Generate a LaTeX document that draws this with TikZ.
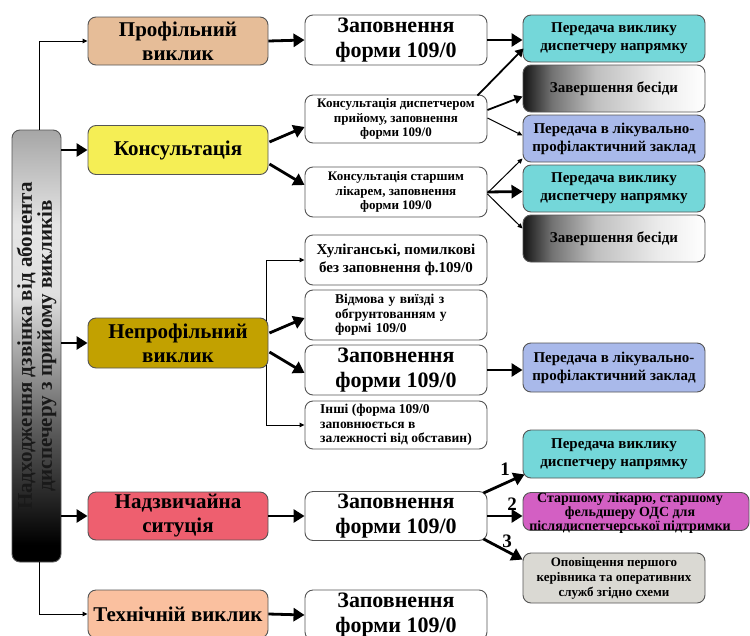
\documentclass[tikz,border=0pt]{standalone}
\usepackage{fontspec}
\setmainfont{Liberation Serif}
\usetikzlibrary{arrows.meta,calc}

\definecolor{cprof}{HTML}{E6BD98}
\definecolor{ckons}{HTML}{F5EE55}
\definecolor{cnepr}{HTML}{C2A100}
\definecolor{cnads}{HTML}{EE5F6F}
\definecolor{ctech}{HTML}{FAC09F}
\definecolor{ccyan}{HTML}{74D7D9}
\definecolor{clav}{HTML}{A9B9EA}
\definecolor{cmag}{HTML}{D35FC3}
\definecolor{cgray}{HTML}{DAD9D3}
\definecolor{cline}{HTML}{555555}

\pgfdeclareverticalshading{barshade}{100bp}{color(0bp)=(black); color(27bp)=(black); color(40bp)=(black!65); color(56bp)=(black!12); color(64bp)=(black!10); color(75bp)=(black!35); color(100bp)=(black!35)}
\pgfdeclarehorizontalshading{endshade}{100bp}{color(0bp)=(black); color(25bp)=(black!92); color(33bp)=(black!55); color(45bp)=(black!25); color(62bp)=(black!8); color(75bp)=(white); color(100bp)=(white)}

\tikzset{
  box/.style={draw=cline, line width=0.9pt, rounded corners=8pt, minimum height=48pt, inner sep=2pt, align=center},
  c1/.style={box, minimum width=180pt, font=\fontsize{21}{24}\selectfont\bfseries},
  c2/.style={box, minimum width=182pt, fill=white},
  big/.style={font=\fontsize{22}{25}\selectfont\bfseries},
  small/.style={font=\fontsize{13}{14.5}\selectfont\bfseries},
  mid/.style={font=\fontsize{13.5}{14.5}\selectfont\bfseries},
  c3/.style={box, minimum width=182pt, minimum height=47pt, font=\fontsize{15}{18}\selectfont\bfseries},
  numlab/.style={font=\fontsize{19}{19}\selectfont\bfseries, inner sep=0pt},
  thickarr/.style={line width=2.8pt, -{Triangle[length=11pt,width=13pt]}},
  medarr/.style={line width=1.8pt, -{Triangle[length=8pt,width=9pt]}},
  thinarr/.style={line width=1pt, -{Triangle[length=5pt,width=4.5pt]}},
}

\begin{document}
\begin{tikzpicture}[x=1pt,y=-1pt]
\useasboundingbox (0,0) rectangle (750,635);

% left bar
\node[draw=cline, line width=0.9pt, rounded corners=8pt, shading=barshade, minimum width=49pt, minimum height=432pt, inner sep=0pt] (bar) at (36.5,346) {};
\node[rotate=90, align=center, font=\fontsize{21}{20}\selectfont\bfseries, text=black!90] (bartext) at (bar.center) {Надходження дзвінка від абонента\\диспечеру з прийому викликів};

% column 1
\node[c1, fill=cprof] (prof) at (178,41) {Профільний\\виклик};
\node[c1, fill=ckons, minimum height=49pt] (kons) at (178,150) {Консультація};
\node[c1, fill=cnepr, minimum height=50pt] (neprof) at (178,343) {Непрофільний\\виклик};
\node[c1, fill=cnads] (nads) at (178,516) {Надзвичайна\\ситуція};
\node[c1, fill=ctech] (tech) at (178,614) {Технічній виклик};

% column 2
\node[c2, big, minimum height=50pt] (z1) at (396,40) {Заповнення\\форми 109/0};
\node[c2, small] (kd) at (396,119) {Консультація диспетчером\\прийому, заповнення\\форми 109/0};
\node[c2, small, minimum height=50pt] (ks) at (396,192) {Консультація старшим\\лікарем, заповнення\\форми 109/0};
\node[c2, font=\fontsize{15}{18}\selectfont\bfseries, minimum height=50pt] (hul) at (396,260) {Хуліганські, помилкові\\без заповнення ф.109/0};
\node[c2, mid, minimum height=50pt, text width=122pt, align=left] (vid) at (396,315) {Відмова у виїзді з\\обгрунтованням у\\формі 109/0};
\node[c2, big, minimum height=50pt] (z2) at (396,370) {Заповнення\\форми 109/0};
\node[c2, mid, align=left] (inshi) at (396,425) {Інші (форма 109/0\\заповнюється в\\залежності від обставин)};
\node[c2, big, minimum height=49pt] (z3) at (396,516) {Заповнення\\форми 109/0};
\node[c2, big, minimum height=50pt] (z4) at (396,615) {Заповнення\\форми 109/0};

% column 3
\node[c3, fill=ccyan] (p1) at (614,38.5) {Передача виклику\\диспетчеру напрямку};
\node[c3, shading=endshade] (zb1) at (614,88.5) {Завершення бесіди};
\node[c3, fill=clav] (l1) at (614,138.5) {Передача в лікувально-\\профілактичний заклад};
\node[c3, fill=ccyan] (p2) at (614,188.5) {Передача виклику\\диспетчеру напрямку};
\node[c3, shading=endshade] (zb2) at (614,238.5) {Завершення бесіди};
\node[c3, fill=clav, minimum height=49pt] (l2) at (614,367.5) {Передача в лікувально-\\профілактичний заклад};
\node[c3, fill=ccyan, minimum height=48pt] (p3) at (614,454) {Передача виклику\\диспетчеру напрямку};
\node[box, fill=cmag, minimum width=226pt, minimum height=38pt, inner sep=0pt] (mag) at (636,511.5) {};
\node[align=center, inner sep=0pt, font=\fontsize{14}{14}\selectfont\bfseries] (magtext) at (630,513) {Старшому лікарю, старшому\\фельдшеру ОДС для\\післядиспетчерської підтримки};
\node[box, fill=cgray, minimum width=182pt, minimum height=50pt, inner sep=1pt, font=\fontsize{13}{15}\selectfont\bfseries] (gray) at (614,578) {Оповіщення першого\\керівника та оперативних\\служб згідно схеми};

% connectors from bar
\draw[thinarr] ($(bar.north)+(2.5,0)$) |- (prof.west);
\draw[thinarr] ($(bar.south)+(2.5,0)$) |- (tech.west);
\draw[thickarr] (bar.east |- kons.west) -- (kons.west);
\draw[thickarr] (bar.east |- neprof.west) -- (neprof.west);
\draw[thickarr] (bar.east |- nads.west) -- (nads.west);

% row 1
\draw[thickarr] (prof.east) -- (z1.west);
\draw[thickarr] (z1.east) -- (z1.east -| p1.west);

% consultation
\draw[thickarr] ($(kons.east)+(1,-8)$) -- ($(kd.west)+(0,8)$);
\draw[thickarr] ($(kons.east)+(1,14)$) -- ($(ks.west)+(0,-7)$);
\draw[medarr] ($(kd.north east)+(-10,1)$) -- ($(p1.south west)+(1,-14)$);
\draw[medarr] ($(kd.east)+(0,-9)$) -- ($(zb1.west)+(0,8)$);
\draw[thinarr] ($(kd.east)+(0,-1)$) -- ($(l1.west)+(0,-3)$);
\draw[thinarr] ($(ks.east)+(0,1)$) -- ($(l1.west)+(0,20)$);
\draw[thickarr] (ks.east) -- ($(p2.west)+(0,3)$);
\draw[thinarr] ($(ks.east)+(0,2)$) -- ($(zb2.west)+(0,-10)$);

% non-profile
\draw[thinarr] ($(neprof.north east)+(-2,3)$) |- (hul.west);
\draw[thinarr] ($(neprof.south east)+(-2,-3)$) |- (inshi.west);
\draw[thickarr] ($(neprof.east)+(1,-10)$) -- ($(vid.west)+(0,3)$);
\draw[thickarr] ($(neprof.east)+(1,9)$) -- ($(z2.west)+(0,3)$);
\draw[thickarr] (z2.east) -- (z2.east -| l2.west);

% emergency
\draw[thickarr] (nads.east) -- (z3.west);
\draw[thickarr] ($(z3.north east)+(-4,2)$) -- ($(p3.south west)+(2,-4)$);
\draw[thickarr] (z3.east) -- (z3.east -| mag.west);
\draw[thickarr] ($(z3.south east)+(-4,-2)$) -- ($(gray.north west)+(0,7)$);
\node[numlab] (n1) at (505,469) {1};
\node[numlab] (n2) at (512,504) {2};
\node[numlab] (n3) at (507,541) {3};

% technical
\draw[thickarr] (tech.east) -- (z4.west);
\end{tikzpicture}
\end{document}
